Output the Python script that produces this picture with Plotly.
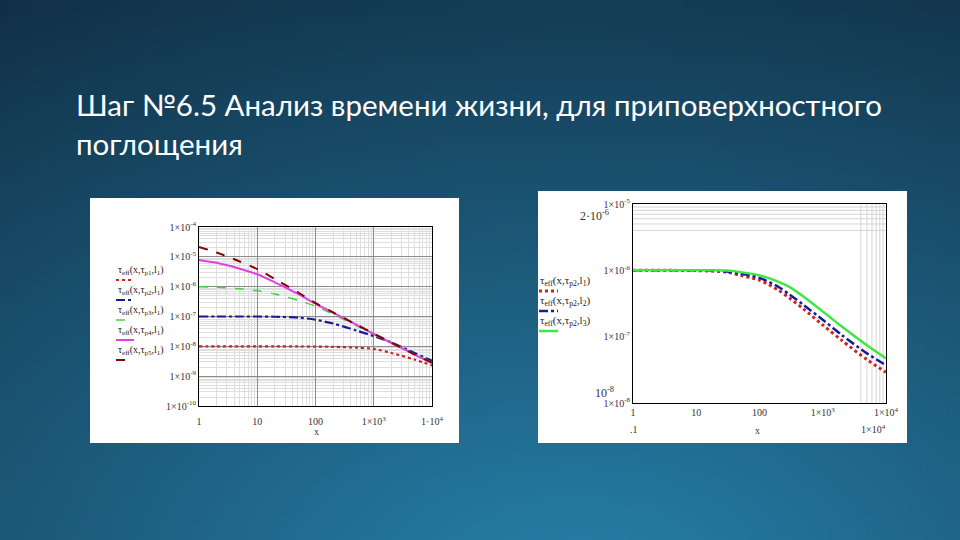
import base64, struct, zlib, math
import plotly.graph_objects as go

# ---------------- data ----------------
x_left = [1, 2, 5, 10, 20, 50, 100, 200, 500, 1000, 2000, 5000, 10000]
tau_p1 = [1.0e-8, 1.0e-8, 1.0e-8, 1.0e-8, 1.0e-8, 9.9e-9, 9.8e-9, 9.6e-9, 9.0e-9, 8.2e-9, 6.0e-9, 3.6e-9, 2.3e-9]
tau_p2 = [1.0e-7, 1.0e-7, 1.0e-7, 1.0e-7, 9.8e-8, 9.2e-8, 7.8e-8, 5.8e-8, 3.4e-8, 2.2e-8, 1.35e-8, 6.0e-9, 3.3e-9]
tau_p3 = [1.0e-6, 9.5e-7, 8.5e-7, 7.3e-7, 5.7e-7, 3.5e-7, 2.2e-7, 1.2e-7, 5.0e-8, 2.5e-8, 1.3e-8, 5.5e-9, 3.0e-9]
tau_p4 = [7.9e-6, 6.3e-6, 4.0e-6, 2.6e-6, 1.4e-6, 5.7e-7, 2.65e-7, 1.35e-7, 5.3e-8, 2.6e-8, 1.3e-8, 5.3e-9, 2.8e-9]
tau_p5 = [2.15e-5, 1.4e-5, 7.0e-6, 3.9e-6, 1.8e-6, 6.5e-7, 2.8e-7, 1.38e-7, 5.4e-8, 2.7e-8, 1.33e-8, 5.4e-9, 2.8e-9]

x_right = [1, 10, 30, 50, 100, 200, 300, 500, 1000, 2000, 5000, 10000]
tau_l1 = [1.0e-6, 9.9e-7, 9.4e-7, 8.4e-7, 7.1e-7, 5.0e-7, 3.8e-7, 2.6e-7, 1.5e-7, 8.8e-8, 4.5e-8, 2.9e-8]
tau_l2 = [1.0e-6, 1.0e-6, 9.6e-7, 8.9e-7, 7.7e-7, 5.6e-7, 4.3e-7, 3.0e-7, 1.8e-7, 1.06e-7, 5.6e-8, 3.7e-8]
tau_l3 = [1.0e-6, 1.0e-6, 9.9e-7, 9.4e-7, 8.4e-7, 6.7e-7, 5.6e-7, 4.0e-7, 2.4e-7, 1.42e-7, 7.4e-8, 4.7e-8]

x_ticks = [1, 10, 100, 1000, 10000]
x_ticktext = ["1", "10", "100", "1×10<sup>3</sup>", "1·10<sup>4</sup>"]
y_left_ticks = [1e-10, 1e-9, 1e-8, 1e-7, 1e-6, 1e-5, 1e-4]
y_left_text = ["1×10<sup>-10</sup>", "1×10<sup>-9</sup>", "1×10<sup>-8</sup>", "1×10<sup>-7</sup>",
               "1×10<sup>-6</sup>", "1×10<sup>-5</sup>", "1×10<sup>-4</sup>"]
y_right_ticks = [1e-8, 1e-7, 1e-6, 1e-5]
y_right_text = ["1×10<sup>-8</sup>", "1×10<sup>-7</sup>", "1×10<sup>-6</sup>", "1×10<sup>-5</sup>"]

left_names = ["τ<sub>eff</sub>(x,τ<sub>p1</sub>,l<sub>1</sub>)", "τ<sub>eff</sub>(x,τ<sub>p2</sub>,l<sub>1</sub>)",
              "τ<sub>eff</sub>(x,τ<sub>p3</sub>,l<sub>1</sub>)", "τ<sub>eff</sub>(x,τ<sub>p4</sub>,l<sub>1</sub>)",
              "τ<sub>eff</sub>(x,τ<sub>p5</sub>,l<sub>1</sub>)"]
right_names = ["τ<sub>eff</sub>(x,τ<sub>p2</sub>,l<sub>1</sub>)", "τ<sub>eff</sub>(x,τ<sub>p2</sub>,l<sub>2</sub>)",
               "τ<sub>eff</sub>(x,τ<sub>p2</sub>,l<sub>3</sub>)"]

title1 = "Шаг №6.5 Анализ времени жизни, для приповерхностного"
title2 = "поглощения"

# ---------------- background gradient image ----------------
W, H = 96, 54
inner = (0x27, 0x82, 0xac)
outer = (0x11, 0x30, 0x46)
rows = []
for j in range(H):
    row = bytearray([0])
    for i in range(W):
        fx, fy = (i + 0.5) / W, (j + 0.5) / H
        d = math.sqrt(((fx - 0.6) / 1.0) ** 2 + ((fy - 1.1) / 1.1) ** 2)
        t = min(d / 1.17, 1.0)
        for k in range(3):
            row.append(int(inner[k] + (outer[k] - inner[k]) * t))
    rows.append(bytes(row))
raw = b"".join(rows)
def chunk(tag, data):
    c = struct.pack(">I", len(data)) + tag + data
    return c + struct.pack(">I", zlib.crc32(tag + data) & 0xffffffff)
png = b"\x89PNG\r\n\x1a\n" + chunk(b"IHDR", struct.pack(">IIBBBBB", W, H, 8, 2, 0, 0, 0)) \
      + chunk(b"IDAT", zlib.compress(raw, 9)) + chunk(b"IEND", b"")
bg_src = "data:image/png;base64," + base64.b64encode(png).decode()

# ---------------- figure ----------------
fig = go.Figure()
FW, FH = 960, 540
def px(x): return x / FW
def py(y): return 1 - y / FH

left_styles = [
    dict(color="#cc2222", width=2.2, dash="dot"),
    dict(color="#1a1a9a", width=2.2, dash="dashdot"),
    dict(color="#44d044", width=1.5, dash="dash"),
    dict(color="#e040e0", width=2, dash="solid"),
    dict(color="#7a0a0a", width=2, dash="dash"),
]
for ys, st, nm in zip([tau_p1, tau_p2, tau_p3, tau_p4, tau_p5], left_styles, left_names):
    fig.add_trace(go.Scatter(x=x_left, y=ys, mode="lines", line=dict(shape="spline", smoothing=0.8, **st),
                             name=nm, xaxis="x", yaxis="y", showlegend=False))

right_styles = [
    dict(color="#cc2222", width=3, dash="dot"),
    dict(color="#1a1a9a", width=2.5, dash="dashdot"),
    dict(color="#3ee83e", width=2.5, dash="solid"),
]
for ys, st, nm in zip([tau_l1, tau_l2, tau_l3], right_styles, right_names):
    fig.add_trace(go.Scatter(x=x_right, y=ys, mode="lines", line=dict(shape="spline", smoothing=0.8, **st),
                             name=nm, xaxis="x2", yaxis="y2", showlegend=False))

tickfont = dict(family="Liberation Serif", size=10, color="#333333")
common = dict(type="log", ticks="", showline=True, linecolor="black", linewidth=1, mirror=True,
              automargin=False, tickfont=tickfont)
fig.update_layout(
    width=FW, height=FH, margin=dict(l=0, r=0, t=0, b=0, pad=0, autoexpand=False),
    paper_bgcolor="#1a4a66", plot_bgcolor="white",
    xaxis=dict(range=[0, 4], domain=[px(199), px(432)], anchor="y",
               tickvals=x_ticks, ticktext=x_ticktext, ticklabelstandoff=6,
               showgrid=True, gridcolor="#8c8c8c", gridwidth=1,
               minor=dict(dtick="D1", showgrid=True, gridcolor="#dedede", gridwidth=1), **common),
    yaxis=dict(range=[-10, -4], domain=[py(406), py(227)], anchor="x",
               tickvals=y_left_ticks, ticktext=y_left_text,
               showgrid=True, gridcolor="#8c8c8c", gridwidth=1,
               minor=dict(dtick="D1", showgrid=True, gridcolor="#dedede", gridwidth=1), **common),
    xaxis2=dict(range=[0, 4], domain=[px(633), px(886)], anchor="y2",
                tickvals=x_ticks, ticktext=["1", "10", "100", "1×10<sup>3</sup>", "1×10<sup>4</sup>"],
                showgrid=False, **common),
    yaxis2=dict(range=[-8, -5], domain=[py(403), py(204)], anchor="x2",
                tickvals=y_right_ticks, ticktext=y_right_text, showgrid=False, **common),
    images=[dict(source=bg_src, xref="paper", yref="paper", x=0, y=1, sizex=1, sizey=1,
                 xanchor="left", yanchor="top", sizing="stretch", layer="below")],
)

shapes = []
# white panels
shapes.append(dict(type="rect", xref="paper", yref="paper", x0=px(90), x1=px(459), y0=py(443), y1=py(198),
                   fillcolor="white", line=dict(width=0), layer="below"))
shapes.append(dict(type="rect", xref="paper", yref="paper", x0=px(538), x1=px(907), y0=py(443), y1=py(191),
                   fillcolor="white", line=dict(width=0), layer="below"))
# partial grid lines of the right plot (Mathcad artefact)
for v in [4000, 5000, 6000, 7000, 8000, 9000]:
    shapes.append(dict(type="line", xref="x2", yref="y2 domain", x0=v, x1=v,
                       y0=0, y1=1, line=dict(color="#d4d4d4", width=1), layer="below"))
for v in [4e-6, 5e-6, 6e-6, 7e-6, 8e-6, 9e-6]:
    shapes.append(dict(type="line", xref="x2 domain", yref="y2", x0=0, x1=1, y0=v,
                       y1=v, line=dict(color="#d4d4d4", width=1), layer="below"))

annotations = []
annotations.append(dict(text=title1, xref="paper", yref="paper", x=px(74), y=py(105), xanchor="left",
                        yanchor="middle", showarrow=False,
                        font=dict(family="Lato", size=29.5, color="white")))
annotations.append(dict(text=title2, xref="paper", yref="paper", x=px(74), y=py(144), xanchor="left",
                        yanchor="middle", showarrow=False,
                        font=dict(family="Lato", size=29.5, color="white")))

legfont = dict(family="Liberation Serif", size=10, color="#222222")
# left legend
for k, (nm, st) in enumerate(zip(left_names, left_styles)):
    ty = 270 + 20 * k
    annotations.append(dict(text=nm, xref="paper", yref="paper", x=px(116), y=py(ty), xanchor="left",
                            yanchor="middle", showarrow=False, font=legfont))
    shapes.append(dict(type="line", xref="paper", yref="paper", x0=px(116), x1=px(134),
                       y0=py(ty + 10), y1=py(ty + 10), line=st))
# right legend
rlegfont = dict(family="Liberation Serif", size=11, color="#222222")
for k, (nm, st) in enumerate(zip(right_names, right_styles)):
    ty = 281 + 20 * k
    annotations.append(dict(text=nm, xref="paper", yref="paper", x=px(538), y=py(ty), xanchor="left",
                            yanchor="middle", showarrow=False, font=rlegfont))
    shapes.append(dict(type="line", xref="paper", yref="paper", x0=px(539), x1=px(558),
                       y0=py(ty + 10), y1=py(ty + 10), line=st))

smallfont = dict(family="Liberation Serif", size=10, color="#333333")
bigfont = dict(family="Liberation Serif", size=12, color="#333333")
for txt, xx, yy, anc, fnt in [("x", 316, 431, "center", smallfont), ("x", 757, 430, "center", smallfont),
                              (".1", 634, 429, "center", smallfont),
                              ("1×10<sup>4</sup>", 873, 429, "center", smallfont),
                              ("2·10<sup>-6</sup>", 611, 215, "right", bigfont),
                              ("10<sup>-8</sup>", 616, 392, "right", bigfont)]:
    annotations.append(dict(text=txt, xref="paper", yref="paper", x=px(xx), y=py(yy), xanchor=anc,
                            yanchor="middle", showarrow=False, font=fnt))

fig.update_layout(shapes=shapes, annotations=annotations)
fig.write_html("out.html", config={"displayModeBar": False},
               post_script="document.body.style.margin='0';document.body.style.overflow='hidden';")
